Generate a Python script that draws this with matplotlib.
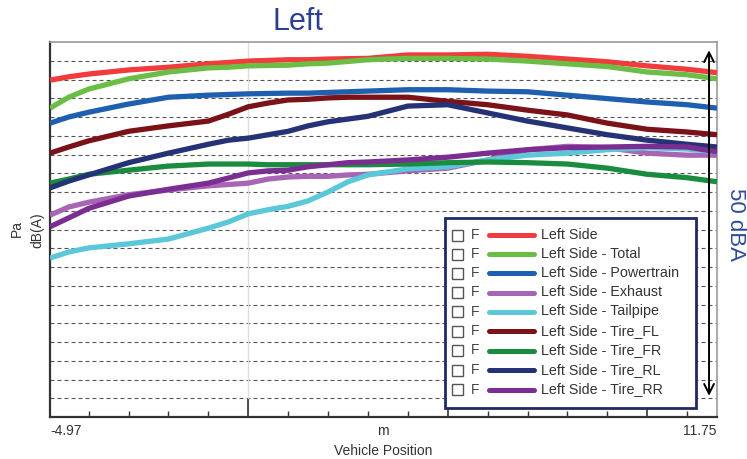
import matplotlib
matplotlib.use("Agg")
import matplotlib.pyplot as plt
from matplotlib.patches import Rectangle
from matplotlib.lines import Line2D
from matplotlib.ticker import FixedLocator, NullFormatter

plt.rcParams['font.family'] = ['Liberation Sans', 'DejaVu Sans']

# ---------------- data ----------------
position = [-4.97, -4.5, -4, -3, -2, -1, -0.5, 0, 0.5, 1, 1.5, 2, 2.5, 3,
            4, 5, 6, 7, 8, 9, 10, 11, 11.75]

left_side = [84.4, 84.9, 85.3, 85.9, 86.3, 86.8, 87.0, 87.2, 87.3, 87.4, 87.4, 87.5, 87.55, 87.6,
             88.1, 88.1, 88.2, 87.9, 87.5, 87.1, 86.5, 86.0, 85.5]
total = [80.3, 81.9, 83.1, 84.6, 85.6, 86.2, 86.3, 86.5, 86.55, 86.6, 86.8, 86.9, 87.15, 87.4,
         87.6, 87.6, 87.5, 87.2, 86.8, 86.4, 85.6, 85.2, 84.6]
powertrain = [78.1, 79.0, 79.7, 80.9, 81.9, 82.2, 82.3, 82.4, 82.45, 82.5, 82.5, 82.6, 82.7, 82.8,
              83.0, 83.0, 82.8, 82.7, 82.2, 81.7, 81.2, 80.8, 80.3]
exhaust = [64.6, 65.8, 66.5, 67.6, 68.3, 68.9, 69.1, 69.3, 69.9, 70.2, 70.3, 70.3, 70.5, 70.6,
           71.1, 71.5, 72.7, 74.2, 74.7, 74.5, 73.7, 73.4, 73.4]
tailpipe = [58.3, 59.2, 59.8, 60.4, 61.1, 62.7, 63.6, 64.8, 65.4, 65.9, 66.7, 68.0, 69.5, 70.5,
            71.4, 71.7, 72.7, 73.4, 73.7, 74.2, 74.5, 74.3, 73.9]
tire_fl = [73.7, 74.6, 75.5, 76.9, 77.7, 78.4, 79.4, 80.5, 81.05, 81.5, 81.6, 81.8, 81.9, 81.9,
           81.9, 81.3, 80.8, 80.0, 79.3, 78.1, 77.2, 76.8, 76.4]
tire_fr = [69.3, 69.9, 70.6, 71.2, 71.8, 72.1, 72.1, 72.1, 72.0, 72.0, 72.0, 72.0, 72.0, 72.0,
           72.1, 72.3, 72.4, 72.3, 72.1, 71.5, 70.6, 70.1, 69.5]
tire_rl = [68.6, 69.6, 70.5, 72.3, 73.7, 75.0, 75.6, 75.9, 76.4, 76.9, 77.7, 78.3, 78.7, 79.1,
           80.6, 80.8, 79.6, 78.4, 77.4, 76.4, 75.6, 75.0, 74.6]
tire_rr = [62.9, 64.2, 65.6, 67.4, 68.4, 69.3, 70.05, 70.8, 71.1, 71.2, 71.7, 72.0, 72.3, 72.4,
           72.7, 73.1, 73.7, 74.2, 74.5, 74.6, 74.7, 74.6, 73.9]

series_labels = ["Left Side", "Left Side - Total", "Left Side - Powertrain", "Left Side - Exhaust",
                 "Left Side - Tailpipe", "Left Side - Tire_FL", "Left Side - Tire_FR",
                 "Left Side - Tire_RL", "Left Side - Tire_RR"]
series_values = [left_side, total, powertrain, exhaust, tailpipe, tire_fl, tire_fr, tire_rl, tire_rr]
series_colors = ["#F03C3C", "#6BBE45", "#1F5FAF", "#A865B5", "#5AC8D8",
                 "#7A1217", "#1A8C3E", "#253275", "#7B2D91"]

x_min, x_max = -4.97, 11.75
y_min, y_max = 35.0, 90.0
grid_step = 2.75
arrow_span = (38.1, 88.8)
arrow_x = 11.55

# ---------------- figure ----------------
W, H = 747, 459
fig = plt.figure(figsize=(W / 100, H / 100), dpi=100)
ax = fig.add_axes([50 / W, 1 - 417 / H, 667 / W, 375 / H])
ax.set_xlim(x_min, x_max)
ax.set_ylim(y_min, y_max)

# dashed horizontal grid
for k in range(1, 20):
    ax.axhline(y_min + k * grid_step, color="#555555", lw=0.8,
               dashes=(3.6, 2.7), zorder=1)
ax.axvline(0, color="#DDDDDD", lw=1.0, zorder=1)

for vals, col in zip(series_values, series_colors):
    ax.plot(position, vals, color=col, lw=3.8, solid_joinstyle="round",
            solid_capstyle="butt", zorder=3)

# spines
for s in ("left", "bottom"):
    ax.spines[s].set_color("#333333")
    ax.spines[s].set_linewidth(1.6)
for s in ("top", "right"):
    ax.spines[s].set_color("#9A9A9A")
    ax.spines[s].set_linewidth(1.2)

# ticks
ax.set_yticks([])
ax.xaxis.set_major_locator(FixedLocator([0, 5, 10]))
ax.xaxis.set_minor_locator(FixedLocator([-4, -3, -2, -1, 1, 2, 3, 4, 6, 7, 8, 9, 11]))
ax.xaxis.set_major_formatter(NullFormatter())
ax.tick_params(axis="x", which="major", direction="in", length=13, width=1.2, color="#333333")
ax.tick_params(axis="x", which="minor", direction="in", length=4, width=1.0, color="#333333")

txt_col = "#333333"
ax.text(0, -0.018, "-4.97", transform=ax.transAxes, ha="left", va="top", fontsize=10, color=txt_col)
ax.text(1, -0.018, "11.75", transform=ax.transAxes, ha="right", va="top", fontsize=10, color=txt_col)
ax.text((383 - 50) / 667, -0.018, "m", transform=ax.transAxes, ha="center", va="top", fontsize=10, color=txt_col)
fig.text(383.5 / W, 1 - 451 / H, "Vehicle Position", ha="center", va="center", fontsize=10, color=txt_col)
fig.text(17 / W, 1 - 229 / H, "Pa", ha="center", va="center", rotation=90, fontsize=10, color=txt_col)
fig.text(37 / W, 1 - 230 / H, "dB(A)", ha="center", va="center", rotation=90, fontsize=10, color=txt_col)

fig.text(298 / W, 1 - 22 / H, "Left", ha="center", va="center", fontsize=22, color="#2E3F8F")
fig.text(735 / W, 1 - 225 / H, "50 dBA", ha="center", va="center", rotation=270,
         fontsize=16, color="#2E4A9A")

# 50 dBA arrow
ax.annotate("", xy=(arrow_x, arrow_span[1]), xytext=(arrow_x, arrow_span[0]),
            arrowprops=dict(arrowstyle="<->,head_length=0.7,head_width=0.35",
                            color="black", lw=1.4, shrinkA=0, shrinkB=0), zorder=6)

# custom legend
def fx(px):
    return (px - 50) / 667

def fy(py):
    return (417 - py) / 375

ax.add_patch(Rectangle((fx(445), fy(408)), fx(696) - fx(445), fy(218) - fy(408),
                       transform=ax.transAxes, facecolor="white", edgecolor="#1F2A66",
                       lw=2.0, zorder=7))
row_py = [235, 254, 273, 292.5, 311.5, 331, 350.5, 370, 389.5]
for py, lab, col in zip(row_py, series_labels, series_colors):
    yy = fy(py)
    ax.add_patch(Rectangle((fx(452), yy - 5.5 / 375), 11 / 667, 11 / 375,
                           transform=ax.transAxes, facecolor="white", edgecolor="#555555",
                           lw=1.0, zorder=8))
    ax.text(fx(471), yy, "F", transform=ax.transAxes, ha="left", va="center",
            fontsize=10, color="#444444", zorder=8)
    ax.add_line(Line2D([fx(489), fx(534)], [yy, yy], transform=ax.transAxes,
                       color=col, lw=3.6, solid_capstyle="round", zorder=8))
    ax.text(fx(541), yy, lab, transform=ax.transAxes, ha="left", va="center",
            fontsize=10.3, color="#333333", zorder=8)

fig.savefig("out.png", dpi=100)
